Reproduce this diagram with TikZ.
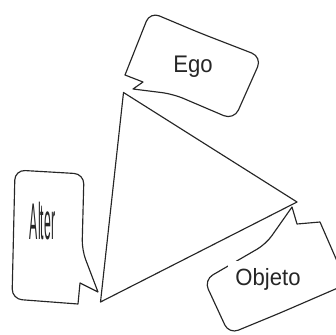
\documentclass[tikz,border=0pt]{standalone}
\usepackage{fontspec}
\newfontfamily\arialfont{Liberation Sans}
\begin{document}
\begin{tikzpicture}[x=1pt,y=-1pt,
  outline/.style={draw=black!85,line width=1.15pt,line join=round},
  bubble/.style={outline,fill=white},
  label/.style={font=\arialfont,text=black!85,inner sep=0pt,anchor=base}]
\useasboundingbox (0,0) rectangle (336,334);
\clip (0,0) rectangle (336,334);
% triangle
\coordinate (top) at (123.5,92.5);
\coordinate (right) at (297,202);
\coordinate (left) at (100.5,302);
\draw[outline] (top) -- (right) -- (left) -- cycle;
% Ego bubble
\draw[bubble] (200,33) [rounded corners=11pt] -- (262,57) -- (234,120) -- (173,94)
  [sharp corners] -- (133,89) -- (143,82) -- (125,75)
  [rounded corners=10pt] -- (150,12) -- cycle;
% Alter bubble
\draw[bubble] (50,172) [rounded corners=10pt] -- (84,174) -- (82,250)
  [sharp corners] -- (98,292) -- (80,283) -- (78,304)
  [rounded corners=10pt] -- (12,299) -- (15,170) -- cycle;
% Objeto bubble
\draw[bubble] (280,313) [rounded corners=10pt] -- (229,334) -- (204,280) -- (266,244)
  [sharp corners] -- (292,207) -- (297,224) -- (320,222)
  [rounded corners=9pt] -- (347,284) -- cycle;
% texts
\node[label] (ego) at (193,73) {\fontsize{24}{28}\selectfont\scalebox{0.92}[1]{Ego}};
\node[label] (alter) at (42.5,239) {\fontsize{24}{28}\selectfont\scalebox{0.51}[2.15]{Alter}};
\node[label,fill=white,inner xsep=7pt,inner ysep=2pt,text height=22pt] (objeto) at (268,285)
  {\fontsize{23.5}{28}\selectfont\scalebox{0.94}[1]{Objeto}};
\end{tikzpicture}
\end{document}
